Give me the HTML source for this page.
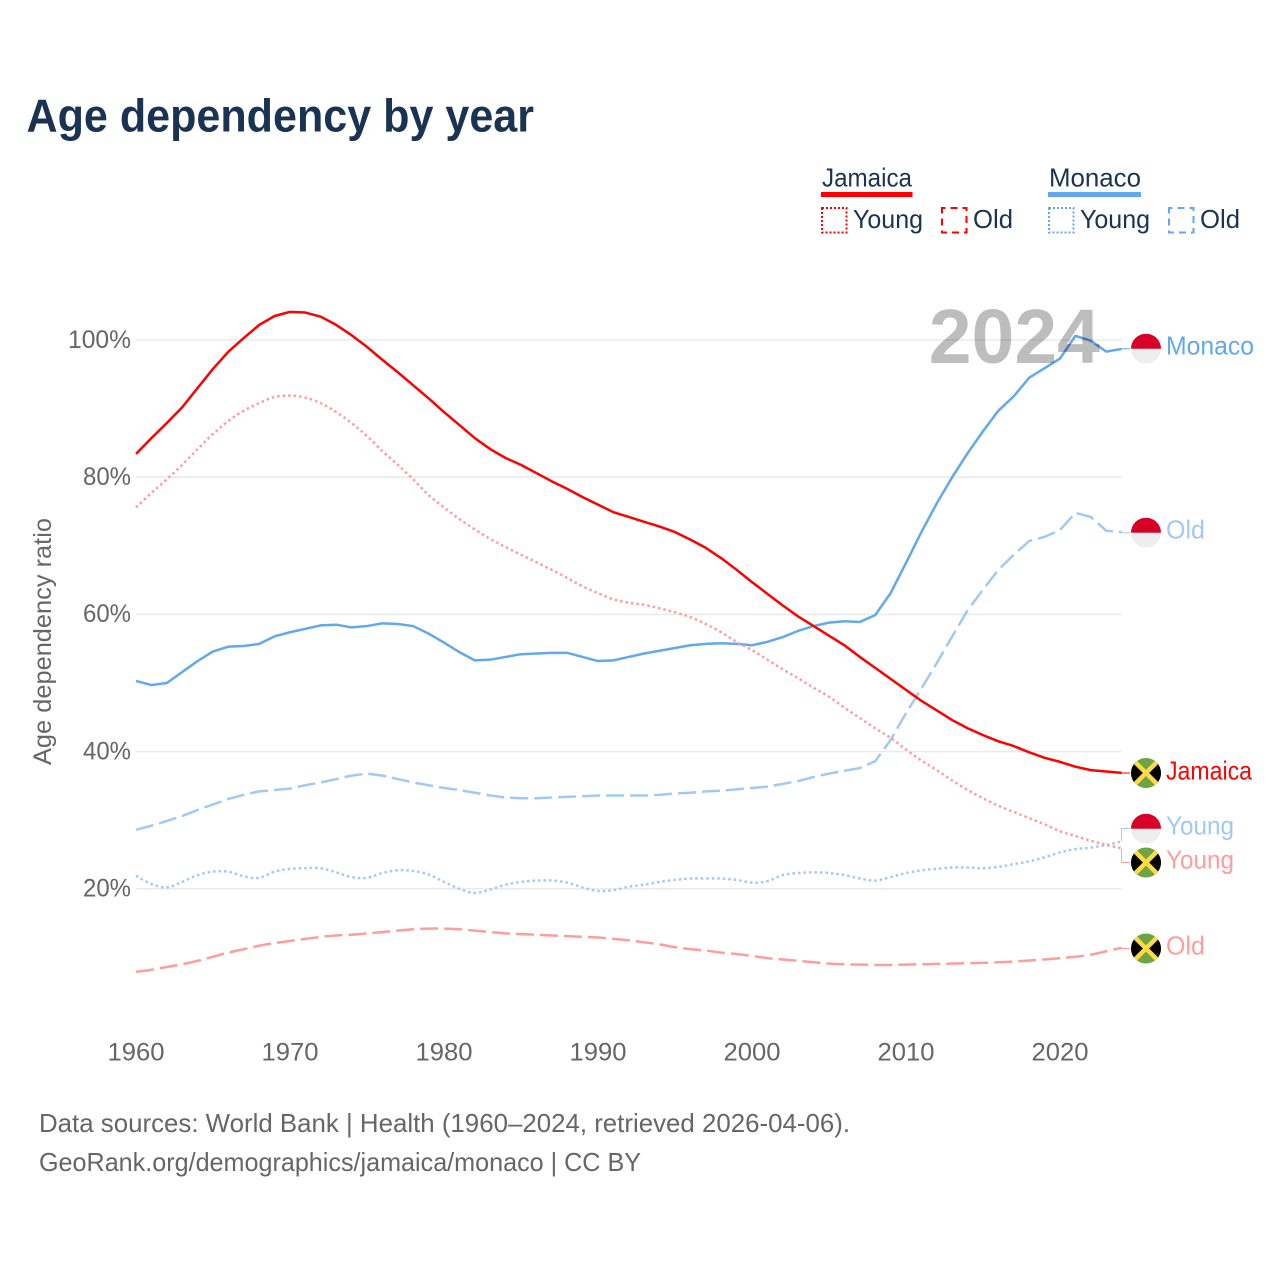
<!DOCTYPE html>
<html>
<head>
<meta charset="utf-8">
<title>Age dependency by year</title>
<style>
html,body{margin:0;padding:0;background:#fff;width:1280px;height:1280px;overflow:hidden}
svg{display:block}
text{font-family:"Liberation Sans",sans-serif}
</style>
</head>
<body>
<svg id="chart" xmlns="http://www.w3.org/2000/svg" width="1280" height="1280" viewBox="0 0 1280 1280">
  <defs><clipPath id="flag-clip"><circle cx="0" cy="0" r="15"/></clipPath></defs>
  <rect width="1280" height="1280" fill="#fff"/>
  <text x="26.5" y="131.5" font-size="46" font-weight="700" fill="#1a3353" textLength="507.5" lengthAdjust="spacingAndGlyphs">Age dependency by year</text>

  <g font-size="26" fill="#1a3353">
    <text x="822" y="186.5" textLength="90" lengthAdjust="spacingAndGlyphs">Jamaica</text>
    <rect x="821" y="192" width="91.5" height="5" fill="#ff0000"/>
    <rect x="822" y="208" width="24.5" height="24.5" fill="none" stroke="#ff0000" stroke-width="2" stroke-dasharray="2 2"/>
    <text x="853" y="228" textLength="70" lengthAdjust="spacingAndGlyphs">Young</text>
    <rect x="942" y="208" width="24.5" height="24.5" fill="none" stroke="#ff0000" stroke-width="2" stroke-dasharray="7 5" stroke-dashoffset="3.5"/>
    <text x="973" y="228" textLength="40" lengthAdjust="spacingAndGlyphs">Old</text>

    <text x="1049" y="186.5" textLength="92" lengthAdjust="spacingAndGlyphs">Monaco</text>
    <rect x="1048" y="192" width="93" height="5" fill="#62a8ec"/>
    <rect x="1049" y="208" width="24.5" height="24.5" fill="none" stroke="#62a8ec" stroke-width="2" stroke-dasharray="2 2"/>
    <text x="1080" y="228" textLength="70" lengthAdjust="spacingAndGlyphs">Young</text>
    <rect x="1169" y="208" width="24.5" height="24.5" fill="none" stroke="#62a8ec" stroke-width="2" stroke-dasharray="7 5" stroke-dashoffset="3.5"/>
    <text x="1200" y="228" textLength="40" lengthAdjust="spacingAndGlyphs">Old</text>
  </g>

  <g id="grid"></g>
  <g id="y-ticks"></g>
  <g id="x-ticks"></g>
  <text transform="translate(51,641.5) rotate(-90)" text-anchor="middle" font-size="25" fill="#666" textLength="247" lengthAdjust="spacingAndGlyphs">Age dependency ratio</text>

  <g id="series"></g>
  <g id="connectors"></g>

  <text x="1100" y="363" text-anchor="end" font-size="77" font-weight="700" fill="#000" fill-opacity="0.26">2024</text>

  <g transform="translate(1146,348.7)" clip-path="url(#flag-clip)"><rect x="-15" y="-15" width="30" height="30" fill="#eeeeee"/><rect x="-15" y="-15" width="30" height="15" fill="#d80027"/></g>
  <g transform="translate(1146,532.7)" clip-path="url(#flag-clip)"><rect x="-15" y="-15" width="30" height="30" fill="#eeeeee"/><rect x="-15" y="-15" width="30" height="15" fill="#d80027"/></g>
  <g transform="translate(1146,828.7)" clip-path="url(#flag-clip)"><rect x="-15" y="-15" width="30" height="30" fill="#eeeeee"/><rect x="-15" y="-15" width="30" height="15" fill="#d80027"/></g>
  <g transform="translate(1146,773)" clip-path="url(#flag-clip)"><rect x="-15" y="-15" width="30" height="30" fill="#6da544"/><path d="M-15-15L0 0L-15 15ZM15-15L0 0L15 15Z" fill="#000"/><path d="M-12-12L12 12M12-12L-12 12" stroke="#ffda44" stroke-width="4.5"/></g>
  <g transform="translate(1146,862.5)"><circle r="16" fill="#fff"/><g clip-path="url(#flag-clip)"><rect x="-15" y="-15" width="30" height="30" fill="#6da544"/><path d="M-15-15L0 0L-15 15ZM15-15L0 0L15 15Z" fill="#000"/><path d="M-12-12L12 12M12-12L-12 12" stroke="#ffda44" stroke-width="4.5"/></g></g>
  <g transform="translate(1146,948.5)" clip-path="url(#flag-clip)"><rect x="-15" y="-15" width="30" height="30" fill="#6da544"/><path d="M-15-15L0 0L-15 15ZM15-15L0 0L15 15Z" fill="#000"/><path d="M-12-12L12 12M12-12L-12 12" stroke="#ffda44" stroke-width="4.5"/></g>

  <g font-size="26">
    <text x="1166" y="354.5" fill="#62a8ec" textLength="88" lengthAdjust="spacingAndGlyphs">Monaco</text>
    <text x="1166" y="538.5" fill="#a1c9f1" textLength="39" lengthAdjust="spacingAndGlyphs">Old</text>
    <text x="1166" y="779.5" fill="#ff0000" textLength="86" lengthAdjust="spacingAndGlyphs">Jamaica</text>
    <text x="1166" y="834.5" fill="#a1c9f1" textLength="68" lengthAdjust="spacingAndGlyphs">Young</text>
    <text x="1166" y="868.5" fill="#ff9d9d" textLength="68" lengthAdjust="spacingAndGlyphs">Young</text>
    <text x="1166" y="954.5" fill="#ff9d9d" textLength="39" lengthAdjust="spacingAndGlyphs">Old</text>
  </g>

  <text x="39" y="1132" font-size="26" fill="#666" textLength="811" lengthAdjust="spacingAndGlyphs">Data sources: World Bank | Health (1960–2024, retrieved 2026-04-06).</text>
  <text x="39" y="1171" font-size="26" fill="#666" textLength="602" lengthAdjust="spacingAndGlyphs">GeoRank.org/demographics/jamaica/monaco | CC BY</text>
</svg>
<script>
var startYear = 1960;
var yTickValues = [100, 80, 60, 40, 20];
var xTickValues = [1960, 1970, 1980, 1990, 2000, 2010, 2020];

var jamaicaTotal = [83.4,85.7,87.9,90.2,93.0,95.8,98.3,100.3,102.2,103.5,
  104.1,104.0,103.4,102.2,100.7,99.0,97.1,95.3,93.4,91.5,
  89.5,87.6,85.7,84.1,82.8,81.8,80.6,79.4,78.3,77.1,
  76.0,74.9,74.2,73.5,72.8,72.0,70.9,69.7,68.2,66.5,
  64.7,63.0,61.3,59.7,58.3,56.9,55.5,53.8,52.2,50.6,
  49.0,47.4,46.0,44.6,43.4,42.4,41.5,40.8,39.9,39.1,
  38.5,37.8,37.3,37.1,36.9];
var jamaicaYoung = [75.6,77.7,79.7,81.8,84.1,86.3,88.2,89.7,90.8,91.7,
  91.9,91.6,90.8,89.5,87.9,86.0,83.8,81.8,79.7,77.4,
  75.6,73.9,72.4,71.0,69.8,68.7,67.6,66.5,65.3,64.1,
  63.1,62.2,61.7,61.4,60.9,60.3,59.6,58.6,57.4,56.0,
  54.8,53.4,52.0,50.7,49.3,48.0,46.4,44.9,43.4,42.0,
  40.3,38.7,37.3,35.8,34.4,33.2,32.1,31.2,30.3,29.4,
  28.4,27.7,27.0,26.4,25.9];
var jamaicaOld = [7.9,8.2,8.6,9.0,9.5,10.1,10.7,11.2,11.7,12.1,
  12.4,12.7,13.0,13.2,13.3,13.5,13.7,13.9,14.1,14.2,
  14.2,14.1,13.9,13.7,13.5,13.4,13.3,13.2,13.1,13.0,
  12.9,12.7,12.5,12.2,11.9,11.5,11.2,11.0,10.7,10.5,
  10.2,9.9,9.7,9.5,9.3,9.1,9.0,8.95,8.9,8.9,
  8.95,9.0,9.05,9.1,9.15,9.2,9.3,9.4,9.55,9.7,
  9.9,10.1,10.4,10.9,11.4];
var monacoTotal = [50.3,49.7,50.0,51.6,53.2,54.6,55.3,55.4,55.7,56.8,
  57.4,57.9,58.4,58.5,58.1,58.3,58.7,58.6,58.3,57.2,
  55.9,54.5,53.3,53.4,53.8,54.2,54.3,54.4,54.4,53.8,
  53.2,53.3,53.8,54.3,54.7,55.1,55.5,55.7,55.8,55.7,
  55.5,56.0,56.7,57.6,58.3,58.8,59.0,58.9,59.9,63.1,
  67.5,72.0,76.2,80.0,83.5,86.7,89.7,91.8,94.5,95.9,
  97.3,100.6,99.9,98.3,98.7];
var monacoYoung = [21.9,20.7,20.2,21.0,22.0,22.5,22.5,21.8,21.6,22.5,
  22.9,23.0,23.0,22.4,21.7,21.6,22.3,22.7,22.6,22.1,
  21.0,20.0,19.4,19.9,20.6,21.0,21.2,21.2,20.9,20.2,
  19.7,19.8,20.3,20.6,21.0,21.3,21.5,21.5,21.5,21.3,
  20.9,21.1,22.0,22.3,22.4,22.3,22.0,21.5,21.2,21.7,
  22.3,22.7,22.9,23.1,23.1,23.0,23.2,23.6,24.0,24.6,
  25.3,25.8,26.0,26.4,26.9];
var monacoOld = [28.6,29.2,29.9,30.6,31.5,32.3,33.1,33.7,34.2,34.4,
  34.6,35.1,35.5,36.0,36.5,36.8,36.5,36.0,35.5,35.1,
  34.7,34.4,34.0,33.6,33.3,33.2,33.2,33.3,33.4,33.5,
  33.6,33.6,33.6,33.6,33.7,33.9,34.0,34.2,34.3,34.5,
  34.7,34.9,35.3,35.7,36.3,36.8,37.2,37.6,38.6,41.7,
  45.6,49.2,52.9,56.8,60.6,63.6,66.5,68.7,70.7,71.3,
  72.3,74.8,74.2,72.2,72.0];

var NS = 'http://www.w3.org/2000/svg';
function xScale(year) { return 136 + (year - 1960) * 15.4; }
function yScale(v) { return 340 + (100 - v) * 6.86; }
function make(tag, attrs, parent) {
  var el = document.createElementNS(NS, tag);
  for (var k in attrs) el.setAttribute(k, attrs[k]);
  parent.appendChild(el);
  return el;
}
var gridLayer = document.getElementById('grid');
var yLayer = document.getElementById('y-ticks');
var xLayer = document.getElementById('x-ticks');
var seriesLayer = document.getElementById('series');
var connectorLayer = document.getElementById('connectors');
var lastX = xScale(startYear + jamaicaTotal.length - 1);

yTickValues.forEach(function (v) {
  var line = make('line', {x1: 136, x2: lastX, y1: yScale(v), y2: yScale(v), stroke: '#ebebeb', 'stroke-width': 1.6}, gridLayer);
  
  
  var label = make('text', {x: 131, y: yScale(v) + 7.8, 'text-anchor': 'end', 'font-size': 25, fill: '#666'}, yLayer);
  label.textContent = v + '%';
  label.setAttribute('textLength', v === 100 ? 63 : 48);
  label.setAttribute('lengthAdjust', 'spacingAndGlyphs');
  
  
});
xTickValues.forEach(function (yr) {
  var label = make('text', {x: xScale(yr), y: 1060.5, 'text-anchor': 'middle', 'font-size': 25, fill: '#666'}, xLayer);
  label.textContent = String(yr);
  label.setAttribute('textLength', 57);
  label.setAttribute('lengthAdjust', 'spacingAndGlyphs');
  
  
});

function pathFor(values, smooth) {
  var pts = values.map(function (v, i) { return [xScale(startYear + i), yScale(v)]; });
  var d = 'M' + pts[0][0].toFixed(2) + ' ' + pts[0][1].toFixed(2);
  for (var i = 1; i < pts.length; i++) {
    if (smooth) {
      var p0 = pts[Math.max(i - 2, 0)], p1 = pts[i - 1], p2 = pts[i], p3 = pts[Math.min(i + 1, pts.length - 1)];
      d += 'C' + (p1[0] + (p2[0] - p0[0]) / 6).toFixed(2) + ' ' + (p1[1] + (p2[1] - p0[1]) / 6).toFixed(2) +
           ' ' + (p2[0] - (p3[0] - p1[0]) / 6).toFixed(2) + ' ' + (p2[1] - (p3[1] - p1[1]) / 6).toFixed(2) +
           ' ' + p2[0].toFixed(2) + ' ' + p2[1].toFixed(2);
    } else {
      d += 'L' + pts[i][0].toFixed(2) + ' ' + pts[i][1].toFixed(2);
    }
  }
  return d;
}
function drawSeries(name, values, color, dash, smooth) {
  var attrs = {d: pathFor(values, smooth), fill: 'none', stroke: color, 'stroke-width': 2.5, 'stroke-linejoin': 'round'};
  if (dash) attrs['stroke-dasharray'] = dash;
  var line = make('path', attrs, seriesLayer);
  
  
}
drawSeries('line-monaco-old', monacoOld, '#a1c9f1', '18 6', false);
drawSeries('line-jamaica-old', jamaicaOld, '#ff9d9d', '18 6', true);
drawSeries('line-monaco-young', monacoYoung, '#a1c9f1', '2.5 3', true);
drawSeries('line-monaco-total', monacoTotal, '#62a8ec', null, false);
drawSeries('line-jamaica-total', jamaicaTotal, '#ff0000', null, false);
drawSeries('line-jamaica-young', jamaicaYoung, '#ff9d9d', '2.5 3', true);

function drawConnector(name, value, labelY, color) {
  var y0 = yScale(value);
  var d = 'M' + lastX + ' ' + y0 + 'V' + labelY + 'H1130';
  var path = make('path', {d: d, fill: 'none', stroke: color, 'stroke-width': 1}, connectorLayer);
  
  
}
drawConnector('connector-monaco', monacoTotal[monacoTotal.length - 1], 348.7, '#62a8ec');
drawConnector('connector-monaco-old', monacoOld[monacoOld.length - 1], 532.7, '#a1c9f1');
drawConnector('connector-jamaica', jamaicaTotal[jamaicaTotal.length - 1], 773, '#ff0000');
drawConnector('connector-monaco-young', monacoYoung[monacoYoung.length - 1], 828.5, '#a1c9f1');
drawConnector('connector-jamaica-young', jamaicaYoung[jamaicaYoung.length - 1], 862.5, '#ff9d9d');
drawConnector('connector-jamaica-old', jamaicaOld[jamaicaOld.length - 1], 948.5, '#ff9d9d');
</script>
</body>
</html>
